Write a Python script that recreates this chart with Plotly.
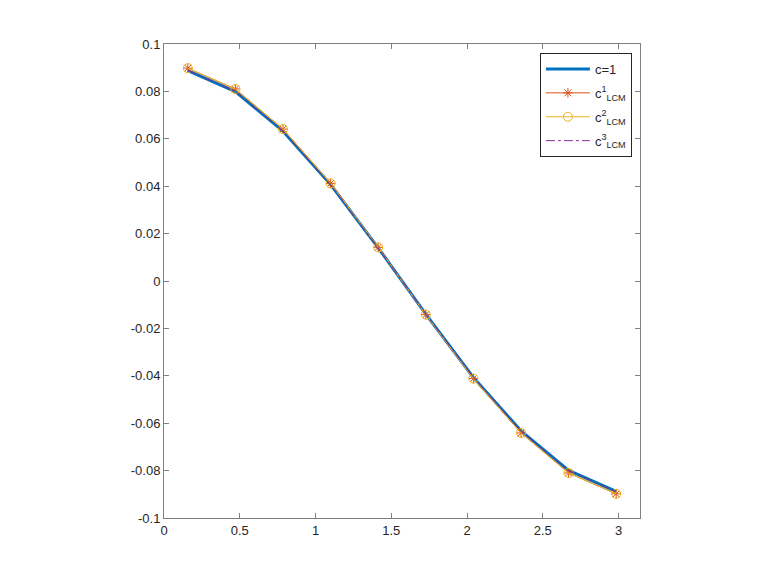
import numpy as np
import plotly.graph_objects as go

x = [0.1571, 0.4712, 0.7854, 1.0996, 1.4137, 1.7279, 2.0420, 2.3562, 2.6704, 2.9845]
c_exact = [0.0888, 0.0799, 0.0632, 0.0407, 0.0140, -0.0140, -0.0407, -0.0632, -0.0799, -0.0888]
c_lcm1 = [0.0898, 0.0810, 0.0641, 0.0412, 0.0142, -0.0142, -0.0412, -0.0641, -0.0810, -0.0898]
c_lcm2 = [0.0898, 0.0810, 0.0641, 0.0412, 0.0142, -0.0142, -0.0412, -0.0641, -0.0810, -0.0898]
c_lcm3 = [0.0889, 0.0800, 0.0633, 0.0407, 0.0140, -0.0140, -0.0407, -0.0633, -0.0800, -0.0889]

xticks = [0, 0.5, 1, 1.5, 2, 2.5, 3]
xticklabels = ["0", "0.5", "1", "1.5", "2", "2.5", "3"]
yticks = [-0.1, -0.08, -0.06, -0.04, -0.02, 0, 0.02, 0.04, 0.06, 0.08, 0.1]
yticklabels = ["-0.1", "-0.08", "-0.06", "-0.04", "-0.02", "0", "0.02", "0.04", "0.06", "0.08", "0.1"]

fig = go.Figure()
fig.add_trace(go.Scatter(x=x, y=c_exact, mode="lines", name="c=1", legendgroup="a",
                         line=dict(color="#0072BD", width=3)))
fig.add_trace(go.Scatter(x=x, y=c_lcm1, mode="lines+markers", name="c<sup>1</sup><sub>LCM</sub>",
                         legendgroup="b",
                         line=dict(color="#D95319", width=1),
                         marker=dict(symbol="asterisk-open", size=8, color="#D95319",
                                     line=dict(color="#D95319", width=1))))
fig.add_trace(go.Scatter(x=x, y=c_lcm2, mode="lines+markers", name="c<sup>2</sup><sub>LCM</sub>",
                         legendgroup="c",
                         line=dict(color="#EDB120", width=1),
                         marker=dict(symbol="circle-open", size=9, color="#EDB120",
                                     line=dict(color="#EDB120", width=1))))
fig.add_trace(go.Scatter(x=x, y=c_lcm3, mode="lines", name="c<sup>3</sup><sub>LCM</sub>",
                         legendgroup="d",
                         line=dict(color="#7E2F8E", width=1, dash="dashdot")))

axis_common = dict(showline=True, linecolor="#808080", linewidth=1, mirror="allticks",
                   ticks="inside", ticklen=5, tickcolor="#808080", showgrid=False,
                   zeroline=False, automargin=False,
                   tickfont=dict(family="Liberation Sans, Arial", size=13, color="#262626"))

fig.update_xaxes(range=[0, np.pi], tickvals=xticks, ticktext=xticklabels, **axis_common)
fig.update_yaxes(range=[-0.1, 0.1], tickvals=yticks, ticktext=yticklabels, **axis_common)

fig.update_layout(
    width=778, height=584,
    margin=dict(l=156, r=146, t=36, b=74),
    paper_bgcolor="white", plot_bgcolor="white",
    font=dict(family="Liberation Sans, Arial", size=13, color="#262626"),
    legend=dict(x=0.983, y=0.981, xanchor="right", yanchor="top",
                bgcolor="white", bordercolor="#262626", borderwidth=1,
                itemwidth=44, font=dict(size=13), tracegroupgap=4),
    showlegend=True,
)

fig.write_html("out.html")
